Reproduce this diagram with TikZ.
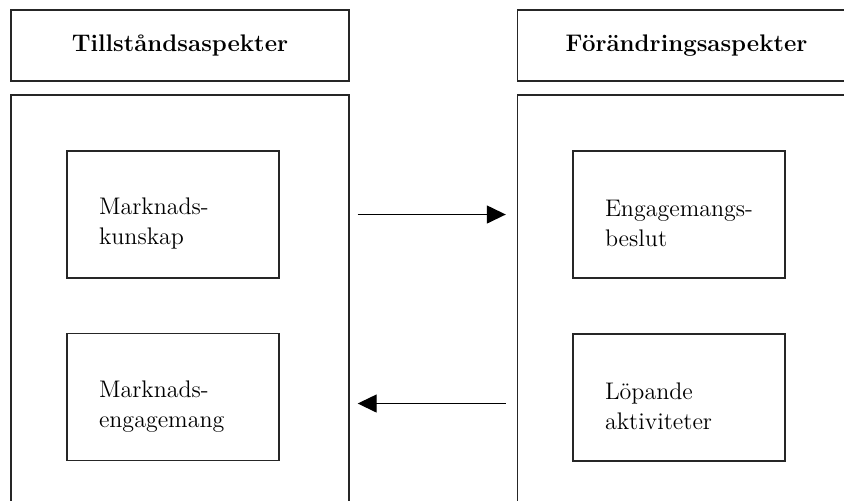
\documentclass[tikz,border=0pt]{standalone}
\usepackage{fontspec}
\usepackage{tikz}
\usetikzlibrary{arrows.meta,positioning}

\begin{document}
\begin{tikzpicture}[x=0.5pt,y=-0.5pt,
  every node/.style={draw=black!85,line width=0.7pt,rectangle,inner sep=0pt},
  header/.style={minimum width=169pt,minimum height=35.5pt,font=\fontsize{12}{15}\selectfont\bfseries},
  panel/.style={minimum width=169pt,minimum height=222.5pt},
  item/.style={minimum width=106pt,minimum height=63.5pt,text width=74pt,align=left,
    font=\fontsize{12}{15}\selectfont,execute at begin node={\rule{0pt}{17.5pt}}},
  flow/.style={line width=0.7pt,-{Triangle[length=9.5pt,width=9pt]}}]
\useasboundingbox (0,0) rectangle (844,500);
\clip (0,0) rectangle (844,500);
% kolumnrubriker
\node[header] (hdrL) at (180,45.5) {Tillståndsaspekter};
\node[header] (hdrR) at (686.5,45.5) {Förändringsaspekter};
% ramar
\node[panel] (panelL) at (180,317.5) {};
\node[panel] (panelR) at (686.5,317.5) {};
% rutor
\node[item] (kunskap) at (173,214.5) {Marknads-\\kunskap};
\node[item] (engagemang) at (173,397) {Marknads-\\engagemang};
\node[item] (beslut) at (679,214.5) {\mbox{Engagemangs-}\\beslut};
\node[item] (aktiv) at (679,397.5) {Löpande\\aktiviteter};
% pilar
\draw[flow,shorten <=4pt,shorten >=5.5pt] (panelL.east |- kunskap.east) -- (panelR.west |- kunskap.east);
\draw[flow,shorten <=5.5pt,shorten >=4pt] ([yshift=-3pt]panelR.west |- aktiv.west) -- ([yshift=-3pt]panelL.east |- aktiv.west);
\end{tikzpicture}
\end{document}
